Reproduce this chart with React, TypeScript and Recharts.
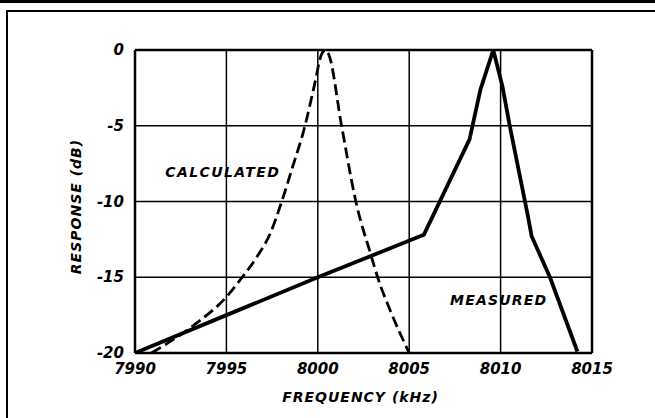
import {
  LineChart,
  Line,
  XAxis,
  YAxis,
  CartesianGrid,
  ReferenceLine,
  ReferenceDot,
  Label,
} from 'recharts';

// frequency (kHz) / response (dB)
const calcFreq = [
  7990.9, 7992.1, 7993.4, 7995.0, 7995.8, 7996.7, 7997.4, 7998.0, 7998.6,
  7999.3, 7999.8, 8000.2, 8000.4, 8000.6, 8001.3, 8002.1, 8002.9, 8003.3,
  8004.0, 8005.0,
];
const calcDb = [
  -20, -19.1, -18.0, -16.3, -15.1, -13.6, -12.1, -10.1, -7.8, -5.0, -2.4, -0.3,
  0, -0.3, -5.0, -10.1, -13.5, -15.1, -17.3, -20,
];

const measFreq = [
  7990, 7995, 8000, 8005.8, 8008.3, 8008.9, 8009.6, 8010.1, 8010.5, 8011.5,
  8011.7, 8012.7, 8014.2,
];
const measDb = [
  -20, -17.5, -15, -12.2, -5.9, -2.6, 0, -2.4, -5, -11, -12.3, -15, -19.9,
];

const freqTicks = [7990, 7995, 8000, 8005, 8010, 8015];
const dbTicks = [-20, -15, -10, -5, 0];

const calculated = calcFreq.map((f, i) => ({ f, db: calcDb[i] }));
const measured = measFreq.map((f, i) => ({ f, db: measDb[i] }));

const FONT = '"DejaVu Sans", sans-serif';
const txt = {
  fill: '#000',
  fontFamily: FONT,
  fontWeight: 'bold',
  fontStyle: 'italic',
} as const;

const XTick = ({ x, y, payload }: any) => (
  <text x={x} y={y} dy={10} textAnchor="middle" dominantBaseline="hanging" fontSize={15} {...txt}>
    {payload.value}
  </text>
);

const YTick = ({ x, y, payload }: any) => (
  <text x={x} y={y} textAnchor="end" dominantBaseline="central" fontSize={15} {...txt}>
    {payload.value}
  </text>
);

export default function App() {
  return (
    <div
      style={{
        position: 'absolute',
        left: 0,
        top: 0,
        width: 655,
        height: 418,
        background: '#fff',
        overflow: 'hidden',
      }}
    >
      {/* scanned page frame */}
      <div style={{ position: 'absolute', left: 0, top: 0, width: 655, height: 3, background: '#000' }} />
      <div style={{ position: 'absolute', left: 6, top: 10, width: 649, height: 2, background: '#000' }} />
      <div style={{ position: 'absolute', left: 6, top: 10, width: 2, height: 408, background: '#000' }} />

      <div style={{ position: 'absolute', left: 0, top: 0 }}>
        <LineChart
          width={655}
          height={418}
          margin={{ top: 50, right: 63, bottom: 0, left: 0 }}
        >
          <CartesianGrid stroke="#000" strokeWidth={1.5} />
          <XAxis
            type="number"
            dataKey="f"
            domain={[7990, 8015]}
            ticks={freqTicks}
            allowDataOverflow
            height={65}
            tickLine={false}
            tickSize={0}
            tickMargin={0}
            axisLine={{ stroke: '#000', strokeWidth: 2.5 }}
            tick={<XTick />}
          >
            <Label
              content={({ viewBox }: any) => (
                <text
                  x={viewBox.x + viewBox.width / 2 - 3}
                  y={viewBox.y + 44}
                  textAnchor="middle"
                  dominantBaseline="central"
                  fontSize={14}
                  letterSpacing={1}
                  {...txt}
                >
                  FREQUENCY (kHz)
                </text>
              )}
            />
          </XAxis>
          <YAxis
            type="number"
            dataKey="db"
            domain={[-20, 0]}
            ticks={dbTicks}
            allowDataOverflow
            width={135}
            tickLine={false}
            tickSize={0}
            tickMargin={11}
            axisLine={{ stroke: '#000', strokeWidth: 2.5 }}
            tick={<YTick />}
          >
            <Label
              content={({ viewBox }: any) => {
                const cx = 76;
                const cy = viewBox.y + viewBox.height / 2 + 5;
                return (
                  <text
                    x={cx}
                    y={cy}
                    transform={`rotate(-90 ${cx} ${cy})`}
                    textAnchor="middle"
                    dominantBaseline="central"
                    fontSize={14}
                    letterSpacing={1}
                    {...txt}
                  >
                    RESPONSE (dB)
                  </text>
                );
              }}
            />
          </YAxis>
          <ReferenceLine y={0} stroke="#000" strokeWidth={2.5} />
          <ReferenceLine x={8015} stroke="#000" strokeWidth={2.5} />

          <Line
            data={calculated}
            dataKey="db"
            type="monotone"
            stroke="#000"
            strokeWidth={2.8}
            strokeDasharray="11 5"
            dot={false}
            isAnimationActive={false}
          />
          <Line
            data={measured}
            dataKey="db"
            type="linear"
            stroke="#000"
            strokeWidth={3.8}
            strokeLinejoin="round"
            dot={false}
            isAnimationActive={false}
          />

          <ReferenceDot
            x={7994.8}
            y={-8.05}
            r={0}
            stroke="none"
            fill="none"
            label={{
              value: 'CALCULATED',
              position: 'center',
              fontSize: 14,
              letterSpacing: 1.4,
              ...txt,
            }}
          />
          <ReferenceDot
            x={8009.9}
            y={-16.5}
            r={0}
            stroke="none"
            fill="none"
            label={{
              value: 'MEASURED',
              position: 'center',
              fontSize: 14,
              letterSpacing: 1.2,
              ...txt,
            }}
          />
        </LineChart>
      </div>
    </div>
  );
}
